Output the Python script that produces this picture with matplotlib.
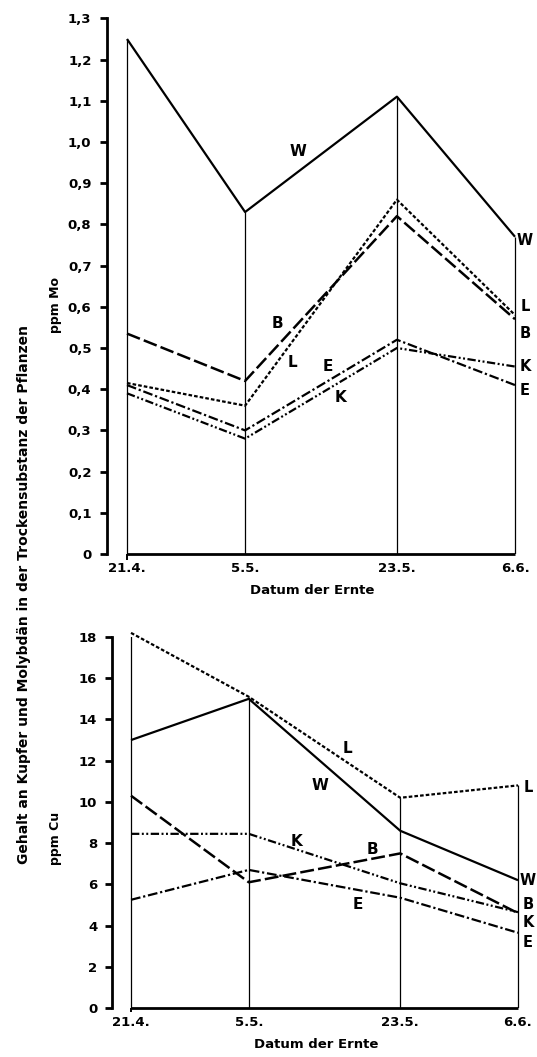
import matplotlib
matplotlib.use("Agg")
import matplotlib.pyplot as plt
import pandas as pd

plt.rcParams["font.family"] = ["DejaVu Sans"]
plt.rcParams["font.weight"] = "bold"
plt.rcParams["lines.scale_dashes"] = False

# data
date_labels = ["21.4.", "5.5.", "23.5.", "6.6."]
series_names = ["W", "L", "B", "E", "K"]

mo_W = [1.25, 0.83, 1.11, 0.77]
mo_L = [0.415, 0.36, 0.86, 0.58]
mo_B = [0.535, 0.42, 0.82, 0.57]
mo_E = [0.41, 0.30, 0.52, 0.41]
mo_K = [0.39, 0.28, 0.50, 0.455]

cu_W = [13.0, 15.0, 8.6, 6.2]
cu_L = [18.2, 15.1, 10.2, 10.8]
cu_B = [10.3, 6.1, 7.5, 4.6]
cu_E = [5.25, 6.7, 5.35, 3.65]
cu_K = [8.45, 8.45, 6.05, 4.65]

mo_ticks = [0, 0.1, 0.2, 0.3, 0.4, 0.5, 0.6, 0.7, 0.8, 0.9, 1.0, 1.1, 1.2, 1.3]
cu_ticks = [0, 2, 4, 6, 8, 10, 12, 14, 16, 18]

# harvest dates -> days after first harvest
dates = pd.to_datetime([f"2000-{d.split('.')[1]}-{d.split('.')[0]}" for d in date_labels])
days = [(d - dates[0]).days for d in dates]

styles = {
    "W": dict(ls="-", lw=1.6),
    "L": dict(ls=(0, (2.6, 1.5)), lw=1.6),
    "B": dict(ls=(0, (10, 3)), lw=1.8),
    "E": dict(ls=(0, (7, 2, 1.6, 2)), lw=1.6),
    "K": dict(ls=(0, (6, 1.8, 1.4, 1.8, 1.4, 1.8)), lw=1.6),
}

W, H = 537, 1057
fig = plt.figure(figsize=(W / 100, H / 100), dpi=100)


def make_axes(x0, x_end, y0, y_top):
    # x0: pixel of first date, x_end: pixel of last date, y0: pixel of zero, y_top: pixel of top tick
    s = (x_end - x0) / days[-1]
    left = x0 - 4 * s
    width = 52 * s
    return fig.add_axes([left / W, 1 - y0 / H, width / W, (y0 - y_top) / H])


def draw(ax, data, ticks, fmt, axis_x, inner, right):
    ymax = ticks[-1]
    ax.set_xlim(-4, 48)
    ax.set_ylim(0, ymax)
    for name in series_names:
        ax.plot(days, data[name], color="black", solid_capstyle="butt",
                clip_on=False, **styles[name])
    # drop lines from the highest value of each harvest
    top = [max(data[n][i] for n in series_names) for i in range(len(days))]
    ax.vlines(days, 0, top, color="black", lw=0.9)
    ax.vlines(days[0], -ymax * 0.012, 0, color="black", lw=1.4, clip_on=False)
    ax.hlines(0, days[0], days[-1], color="black", lw=2, clip_on=False)

    for sp in ["top", "right", "bottom"]:
        ax.spines[sp].set_visible(False)
    ax.spines["left"].set_position(("data", axis_x))
    ax.spines["left"].set_linewidth(2)
    ax.set_yticks(ticks)
    ax.set_yticklabels([fmt(t) for t in ticks], fontsize=9.5, fontweight="bold")
    ax.tick_params(axis="y", length=5, width=2, pad=6)
    ax.set_xticks(days)
    ax.set_xticklabels(date_labels, fontsize=9.5, fontweight="bold")
    ax.tick_params(axis="x", length=0, pad=6)
    ax.set_xlabel("Datum der Ernte", fontsize=9.5, fontweight="bold", labelpad=6)
    ax.patch.set_alpha(0)

    for name, (x, y) in inner.items():
        ax.text(x, y, name, fontsize=11, fontweight="bold", ha="center", va="center")
    for name, y in right.items():
        ax.text(47.2, y, name, fontsize=10.5, fontweight="bold", ha="center", va="center")


# top: molybdenum
ax1 = make_axes(127, 515, 554, 18.4)
mo = {"W": mo_W, "L": mo_L, "B": mo_B, "E": mo_E, "K": mo_K}
draw(ax1, mo, mo_ticks, lambda t: ("0" if t == 0 else f"{t:.1f}".replace(".", ",")),
     -2.4,
     {"W": (20.3, 0.976), "B": (17.8, 0.56), "L": (19.6, 0.464), "E": (23.8, 0.454), "K": (25.3, 0.379)},
     {"W": 0.762, "L": 0.60, "B": 0.534, "K": 0.454, "E": 0.398})
ax1.set_ylabel("ppm Mo", fontsize=9, fontweight="bold")
ax1.yaxis.set_label_coords(-0.071, 0.465)

# bottom: copper
ax2 = make_axes(131, 518, 1008, 637)
cu = {"W": cu_W, "L": cu_L, "B": cu_B, "E": cu_E, "K": cu_K}
draw(ax2, cu, cu_ticks, lambda t: f"{t:d}",
     -2.2,
     {"L": (25.7, 12.6), "W": (22.5, 10.8), "K": (19.7, 8.1), "B": (28.7, 7.7), "E": (27.0, 5.0)},
     {"L": 10.7, "W": 6.2, "B": 5.0, "K": 4.17, "E": 3.2})
ax2.set_ylabel("ppm Cu", fontsize=9, fontweight="bold")
ax2.yaxis.set_label_coords(-0.081, 0.458)

fig.text(24 / W, 1 - 595 / H, "Gehalt an Kupfer und Molybdän in der Trockensubstanz der Pflanzen",
         rotation=90, ha="center", va="center", fontsize=10, fontweight="bold")

fig.savefig("out.png", dpi=100, facecolor="white")
